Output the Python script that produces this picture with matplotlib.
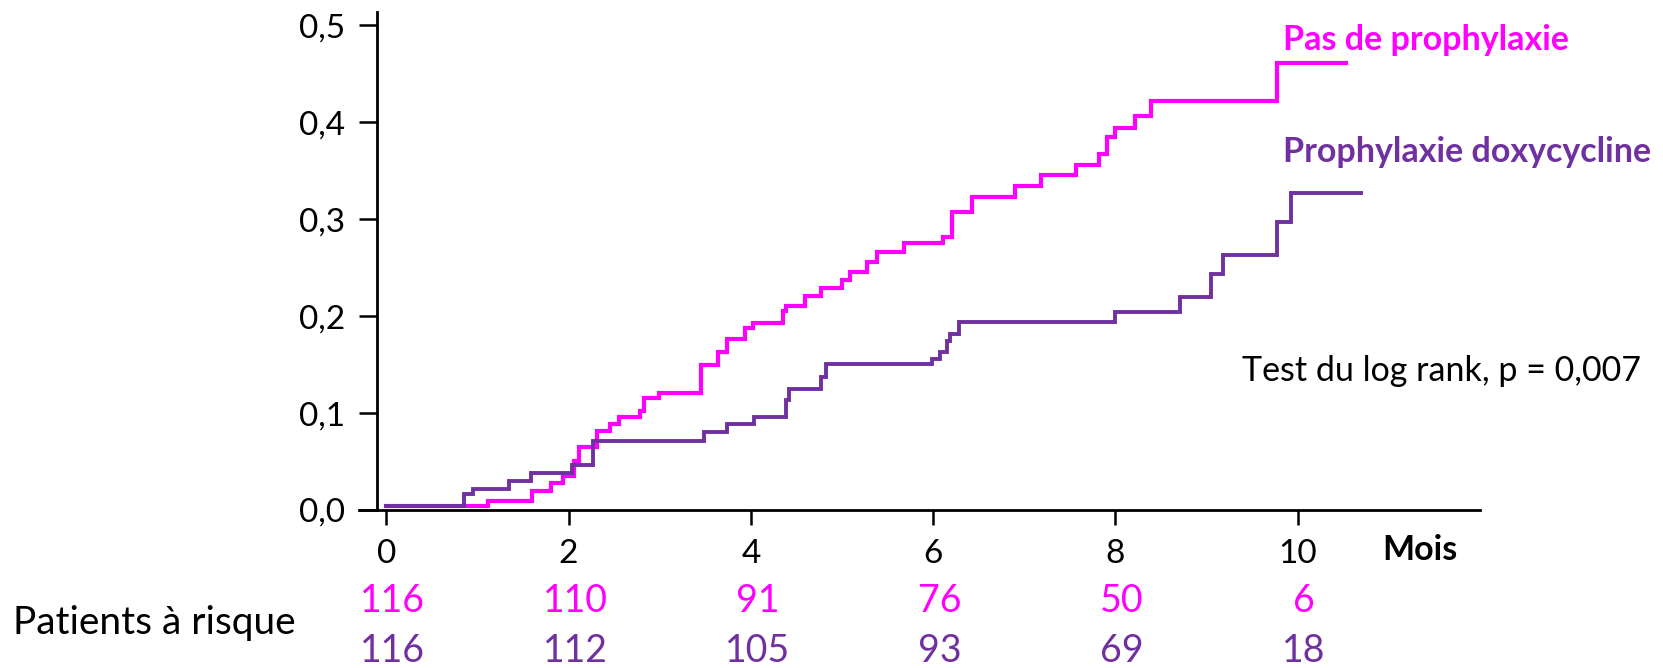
import matplotlib
matplotlib.use('Agg')
from matplotlib import pyplot as plt
from matplotlib import transforms

W, H = 1663, 668
PINK = '#FF00FF'
PURPLE = '#7030A0'

# courbes d'incidence cumulée (mois, proportion)
pas_t = [0, 1.11, 1.60, 1.81, 1.94, 2.06, 2.11, 2.31, 2.45, 2.55, 2.78, 2.83, 2.99,
         3.45, 3.64, 3.74, 3.94, 4.02, 4.35, 4.38, 4.59, 4.77, 5.00, 5.09, 5.27,
         5.38, 5.68, 6.11, 6.21, 6.43, 6.90, 7.18, 7.57, 7.82, 7.91, 8.00, 8.22,
         8.39, 9.77, 10.53]
pas_y = [0.0045, 0.009, 0.020, 0.028, 0.035, 0.051, 0.065, 0.081, 0.089, 0.096,
         0.102, 0.116, 0.121, 0.150, 0.163, 0.176, 0.188, 0.193, 0.205, 0.210,
         0.221, 0.229, 0.237, 0.246, 0.256, 0.266, 0.275, 0.282, 0.307, 0.323,
         0.334, 0.346, 0.356, 0.367, 0.385, 0.394, 0.406, 0.422, 0.461, 0.461]

doxy_t = [0, 0.85, 0.95, 1.35, 1.59, 2.04, 2.27, 3.49, 3.74, 4.03, 4.38, 4.42,
          4.77, 4.82, 5.99, 6.07, 6.15, 6.19, 6.28, 8.00, 8.71, 9.05, 9.18, 9.77,
          9.93, 10.69]
doxy_y = [0.0045, 0.0167, 0.0215, 0.030, 0.038, 0.0466, 0.0716, 0.080, 0.089,
          0.0964, 0.113, 0.1245, 0.137, 0.1505, 0.156, 0.163, 0.174, 0.182, 0.194,
          0.204, 0.220, 0.243, 0.263, 0.297, 0.3266, 0.3266]

mois_ticks = [0, 2, 4, 6, 8, 10]
risque_pas = [116, 110, 91, 76, 50, 6]
risque_doxy = [116, 112, 105, 93, 69, 18]
y_ticks = [0.0, 0.1, 0.2, 0.3, 0.4, 0.5]
y_labels = ['0,0', '0,1', '0,2', '0,3', '0,4', '0,5']

plt.rcParams['font.family'] = ['Lato', 'DejaVu Sans']


def fx(x):
    return x / W


def fy(y):
    return 1 - y / H


fig = plt.figure(figsize=(W / 100, H / 100), dpi=100)
ax = fig.add_axes([fx(359), fy(510), fx(1480) - fx(359), fy(11.7) - fy(510)])

ax.step(pas_t, pas_y, where='post', color=PINK, lw=3, solid_joinstyle='miter')
ax.step(doxy_t, doxy_y, where='post', color=PURPLE, lw=2.8, solid_joinstyle='miter')

ax.set_xlim(-0.30, 12.0)
ax.set_ylim(0, 0.514)
ax.spines['top'].set_visible(False)
ax.spines['right'].set_visible(False)
ax.spines['left'].set_position(('data', -0.10))
for s in ['left', 'bottom']:
    ax.spines[s].set_linewidth(2)

ax.set_yticks(y_ticks)
ax.set_yticklabels(y_labels)
ax.set_xticks(mois_ticks)
ax.set_xticklabels([str(m) for m in mois_ticks])
ax.tick_params(axis='y', direction='out', length=13, width=1.8, pad=10, labelsize=24)
ax.tick_params(axis='x', direction='out', length=11, width=1.8, pad=10, labelsize=24)

# légendes des courbes
fig.text(fx(1283), fy(49.5), 'Pas de prophylaxie', color=PINK, fontsize=24.5,
         fontweight='bold', va='baseline')
fig.text(fx(1283), fy(161.5), 'Prophylaxie doxycycline', color=PURPLE, fontsize=24.5,
         fontweight='bold', va='baseline')
fig.text(fx(1242), fy(381), 'Test du log rank, p = 0,007', fontsize=24.5, va='baseline')
fig.text(fx(1382), fy(560), 'Mois', fontsize=24.5, fontweight='bold', va='baseline')

# patients à risque
fig.text(fx(13), fy(634), 'Patients à risque', fontsize=28, va='baseline')
tr = transforms.blended_transform_factory(ax.transData, fig.transFigure)
for m, a, b in zip(mois_ticks, risque_pas, risque_doxy):
    ax.text(m + 0.07, fy(611.7), str(a), color=PINK, fontsize=27, ha='center',
            va='baseline', transform=tr)
    ax.text(m + 0.07, fy(661.7), str(b), color=PURPLE, fontsize=27, ha='center',
            va='baseline', transform=tr)

fig.savefig('out.png', dpi=100)
